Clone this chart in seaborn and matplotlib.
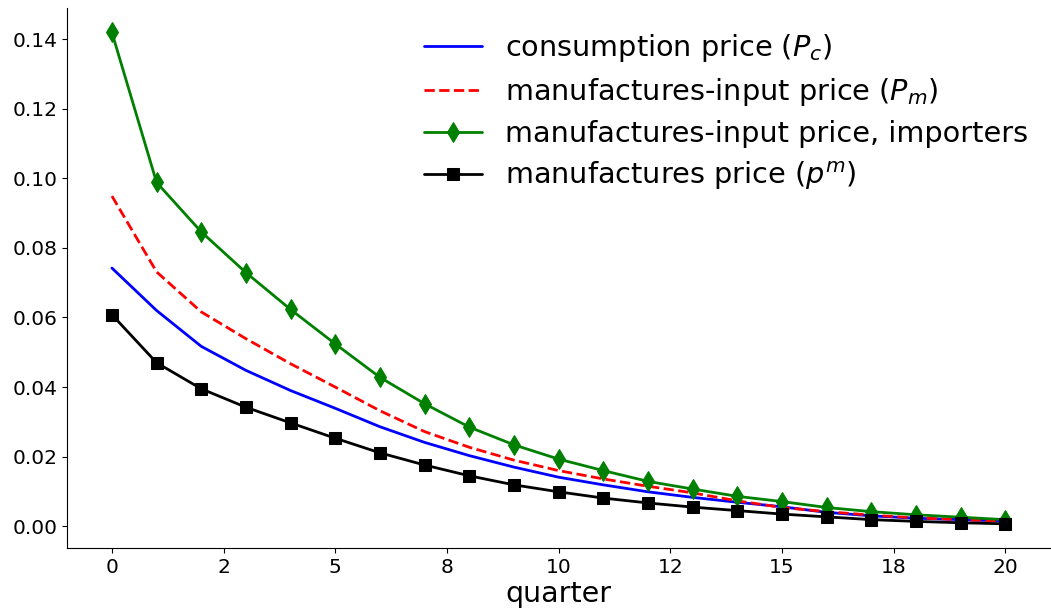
import numpy as np
import matplotlib
matplotlib.use("Agg")
import matplotlib.pyplot as plt
import seaborn as sns
from matplotlib.ticker import StrMethodFormatter

quarter = list(range(21))

consumption_price = [0.0742, 0.0620, 0.0517, 0.0448, 0.0390, 0.0339, 0.0286, 0.0241, 0.0203,
                     0.0170, 0.0141, 0.0119, 0.0099, 0.0083, 0.0069, 0.0056, 0.0040, 0.0030,
                     0.0023, 0.0019, 0.0015]
input_price = [0.0949, 0.0731, 0.0616, 0.0539, 0.0467, 0.0400, 0.0332, 0.0272, 0.0227,
               0.0190, 0.0160, 0.0136, 0.0115, 0.0096, 0.0073, 0.0054, 0.0042, 0.0032,
               0.0024, 0.0019, 0.0014]
input_price_importers = [0.1419, 0.0988, 0.0846, 0.0729, 0.0623, 0.0524, 0.0428, 0.0352, 0.0285,
                         0.0234, 0.0193, 0.0160, 0.0129, 0.0107, 0.0086, 0.0071, 0.0054, 0.0042,
                         0.0033, 0.0026, 0.0019]
manufactures_price = [0.0608, 0.0470, 0.0395, 0.0342, 0.0297, 0.0253, 0.0211, 0.0176, 0.0145,
                      0.0119, 0.0099, 0.0081, 0.0067, 0.0055, 0.0045, 0.0035, 0.0027, 0.0019,
                      0.0014, 0.0010, 0.0007]

labels = ["consumption price ($P_c$)",
          "manufactures-input price ($P_m$)",
          "manufactures-input price, importers",
          "manufactures price ($p^m$)"]

sns.set_style("ticks", {"axes.edgecolor": "black", "xtick.color": "black",
                        "ytick.color": "black", "text.color": "black",
                        "axes.labelcolor": "black"})
fig, ax = plt.subplots(figsize=(10.51, 6.10), dpi=100)

sns.lineplot(x=quarter, y=consumption_price, color="blue", lw=2, label=labels[0], ax=ax)
sns.lineplot(x=quarter, y=input_price, color="red", lw=2, linestyle="--", label=labels[1], ax=ax)
sns.lineplot(x=quarter, y=input_price_importers, color="green", lw=2, marker="d",
             markersize=10, markeredgecolor="green", label=labels[2], ax=ax)
sns.lineplot(x=quarter, y=manufactures_price, color="black", lw=2, marker="s",
             markersize=8, markeredgecolor="black", label=labels[3], ax=ax)

# ticks every 2.5 quarters, shown as whole numbers
ax.set_xticks(np.arange(0, 20.1, 2.5))
ax.xaxis.set_major_formatter(StrMethodFormatter("{x:.0f}"))
ax.set_yticks(np.arange(0, 0.141, 0.02))
ax.yaxis.set_major_formatter(StrMethodFormatter("{x:.2f}"))
ax.tick_params(labelsize=14.5)
ax.set_xlabel("quarter", fontsize=20.5, labelpad=2)
ax.set_ylabel("")
ax.legend(loc="upper right", fontsize=20.7, frameon=False, labelspacing=0.42,
          borderaxespad=0, bbox_to_anchor=(0.989, 0.977))
sns.despine()

plt.subplots_adjust(left=0.064, right=0.999, bottom=0.101, top=0.987)
plt.savefig("out.png", dpi=100)
